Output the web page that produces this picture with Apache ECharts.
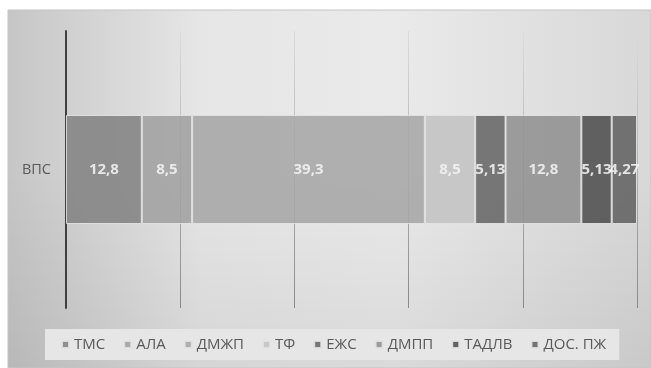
<!DOCTYPE html>
<html>
<head>
<meta charset="utf-8">
<script src="https://cdn.jsdelivr.net/npm/echarts@6/dist/echarts.min.js"></script>
<style>
  html, body { margin: 0; padding: 0; background: #ffffff; }
  #chart { width: 651px; height: 368px; }
</style>
</head>
<body>
<div id="chart"></div>
<script>
// Row label and the stacked components of the single bar
const categories = ['ВПС'];
const seriesNames = ['ТМС', 'АЛА', 'ДМЖП', 'ТФ', 'ЕЖС', 'ДМПП', 'ТАДЛВ', 'ДОС. ПЖ'];
const values = [12.8, 8.5, 39.3, 8.5, 5.13, 12.8, 5.13, 4.27];

// Grey palette, one shade per component
const palette = ['#838383', '#a0a0a0', '#a6a6a6', '#c3c3c3', '#666666', '#919191', '#4f4f4f', '#626262'];

// The bar fills the full width: axis runs from 0 to the total, split in fifths
const total = values.reduce((a, b) => a + b, 0);

const chart = echarts.init(document.getElementById('chart'), null, { renderer: 'canvas' });

const fontFamily = '"Open Sans", "Noto Sans", sans-serif';

const series = seriesNames.map((name, i) => ({
  name: name,
  type: 'bar',
  stack: 'all',
  barWidth: 109,
  data: [values[i]],
  itemStyle: {
    color: palette[i],
    opacity: 0.88,
    borderColor: '#e4e4e4',
    borderWidth: 1
  },
  label: {
    show: true,
    position: 'inside',
    color: '#f4f4f4',
    fontFamily: fontFamily,
    fontWeight: 'bold',
    fontSize: 15,
    formatter: p => String(p.value).replace('.', ',')
  },
  emphasis: { disabled: true }
}));

const option = {
  animation: false,
  backgroundColor: '#ffffff',
  graphic: [
    {
      type: 'rect',
      z: -10,
      shape: { x: 8, y: 10, width: 643, height: 358 },
      style: {
        fill: new echarts.graphic.LinearGradient(0, 0, 1, 0, [
          { offset: 0, color: '#c6c6c6' },
          { offset: 0.3, color: '#e6e6e6' },
          { offset: 0.6, color: '#eaeaea' },
          { offset: 1, color: '#d8d8d8' }
        ]),
        stroke: '#c4c4c4',
        lineWidth: 1
      }
    },
    {
      type: 'rect',
      z: -9,
      shape: { x: 8.5, y: 10.5, width: 642, height: 357 },
      style: {
        fill: new echarts.graphic.LinearGradient(0, 0, 0, 1, [
          { offset: 0, color: 'rgba(0,0,0,0)' },
          { offset: 0.45, color: 'rgba(0,0,0,0)' },
          { offset: 1, color: 'rgba(0,0,0,0.07)' }
        ])
      }
    }
  ],
  grid: { left: 66, right: 14, top: 31, bottom: 60, containLabel: false },
  xAxis: {
    type: 'value',
    min: 0,
    max: total,
    interval: total / 5,
    axisLine: { show: false },
    axisTick: { show: false },
    axisLabel: { show: false },
    splitLine: {
      show: true,
      lineStyle: {
        width: 1,
        color: new echarts.graphic.LinearGradient(0, 0, 0, 1, [
          { offset: 0, color: '#dcdcdc' },
          { offset: 1, color: '#888888' }
        ])
      }
    }
  },
  yAxis: {
    type: 'category',
    data: categories,
    axisLine: { show: true, lineStyle: { color: '#404040', width: 2 } },
    axisTick: { show: false },
    axisLabel: {
      color: '#595959',
      fontFamily: fontFamily,
      fontSize: 14.5,
      margin: 15
    },
    splitLine: { show: false }
  },
  legend: {
    data: seriesNames,
    left: 45,
    top: 329,
    orient: 'horizontal',
    icon: 'rect',
    itemWidth: 7,
    itemHeight: 7,
    itemGap: 18,
    padding: [8, 13, 8, 16],
    backgroundColor: '#e6e6e6',
    textStyle: {
      color: '#595959',
      fontFamily: fontFamily,
      fontSize: 15
    },
    selectedMode: false
  },
  series: series
};

chart.setOption(option);
</script>
</body>
</html>
